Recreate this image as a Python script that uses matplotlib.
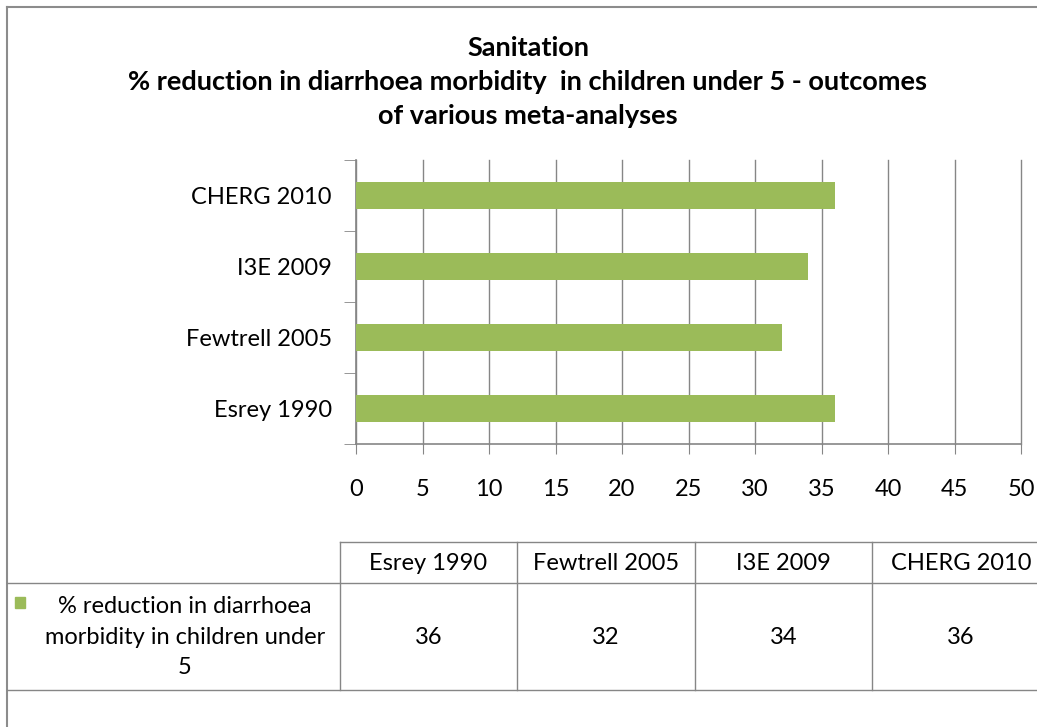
import matplotlib
matplotlib.use('Agg')
import matplotlib.pyplot as plt
from matplotlib.lines import Line2D
from matplotlib.patches import Rectangle

# dados
studies = ['Esrey 1990', 'Fewtrell 2005', 'I3E 2009', 'CHERG 2010']
reduction = [36, 32, 34, 36]
series_name = '% reduction in diarrhoea\nmorbidity in children under\n5'
title = 'Sanitation\n% reduction in diarrhoea morbidity  in children under 5 - outcomes\nof various meta-analyses'

green = '#9BBB59'
grid_c = '#868686'
W, H = 1037, 727

plt.rcParams['font.family'] = ['Lato', 'DejaVu Sans']

fig = plt.figure(figsize=(W/100, H/100), dpi=100)
fig.patch.set_facecolor('white')

def fx(x):
    return x / W

def fy(y):
    return 1 - y / H

def hline(x0, x1, y, c=grid_c, lw=1.0):
    fig.add_artist(Line2D([fx(x0), fx(x1)], [fy(y), fy(y)], color=c, lw=lw))

def vline(x, y0, y1, c=grid_c, lw=1.0):
    fig.add_artist(Line2D([fx(x), fx(x)], [fy(y0), fy(y1)], color=c, lw=lw))

# moldura do gráfico (cortada à direita e embaixo)
hline(7, W + 5, 7, c='#8c8c8c', lw=1.5)
vline(7, 7, H + 5, c='#8c8c8c', lw=1.5)

fig.text(fx(528), fy(82), title, ha='center', va='center', fontsize=19.5,
         fontweight='bold', linespacing=1.52)

# área do gráfico
ax = fig.add_axes([fx(356), fy(444), fx(1021) - fx(356), fy(160) - fy(444)])
ypos = list(range(len(studies)))
ax.barh(ypos, reduction, height=0.39, color=green, zorder=3)
ax.set_xlim(0, 50)
ax.set_ylim(-0.5, len(studies) - 0.5)
ax.set_xticks(range(0, 51, 5))
ax.tick_params(axis='x', length=7, color=grid_c, pad=18.5, labelsize=17)
ax.set_yticks(ypos)
ax.set_yticklabels(studies)
ax.set_yticks([i - 0.5 for i in range(len(studies) + 1)], minor=True)
ax.tick_params(axis='y', which='major', length=0, pad=17.5, labelsize=17)
ax.tick_params(axis='y', which='minor', length=9, color=grid_c)
ax.grid(axis='x', color=grid_c, lw=1.0, zorder=0)
for gl in ax.get_xgridlines():
    gl.set_clip_on(False)
for s in ['top', 'right']:
    ax.spines[s].set_visible(False)
for s in ['left', 'bottom']:
    ax.spines[s].set_color(grid_c)
    ax.spines[s].set_linewidth(1.2)

# tabela de dados
col_edges = [340, 517, 695, 872, 1050]
top, mid, bot = 542, 583, 690
hline(340, W + 5, top)
hline(7, W + 5, mid)
hline(7, W + 5, bot)
for x in col_edges:
    vline(x, top, bot)
for i, name in enumerate(studies):
    cx = (col_edges[i] + col_edges[i + 1]) / 2
    fig.text(fx(cx), fy(top + (mid - top) / 2 + 1), name, ha='center', va='center', fontsize=17)
    fig.text(fx(cx), fy(637), str(reduction[i]), ha='center', va='center', fontsize=17)

fig.add_artist(Rectangle((fx(15), fy(608)), fx(10), fy(597) - fy(608), color=green))
fig.text(fx(185), fy(637), series_name, ha='center', va='center', fontsize=17,
         linespacing=1.55)

fig.savefig('out.png', dpi=100, facecolor='white')
